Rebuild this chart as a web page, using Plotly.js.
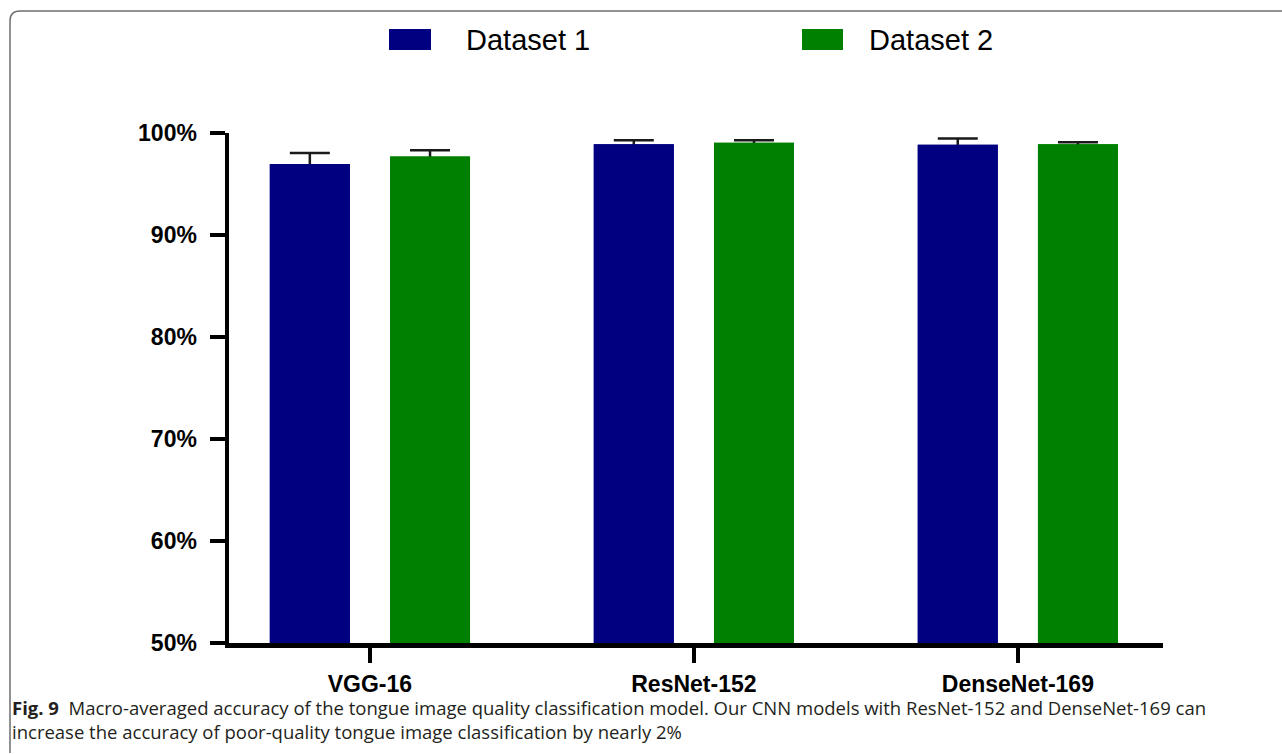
<!DOCTYPE html>
<html>
<head>
<meta charset="utf-8">
<script src="https://cdn.plot.ly/plotly-3.0.1.min.js"></script>
<style>html,body{margin:0;padding:0;background:#fff;}#chart{width:1282px;height:754px;}</style>
</head>
<body>
<div id="chart"></div>
<script>
// ---- data ----
const categories = ['VGG-16', 'ResNet-152', 'DenseNet-169'];
const seriesNames = ['Dataset 1', 'Dataset 2'];
const dataset1 = [96.95, 98.9, 98.85];
const dataset1Err = [1.1, 0.4, 0.6];
const dataset2 = [97.7, 99.05, 98.9];
const dataset2Err = [0.6, 0.25, 0.2];
const yTicks = [50, 60, 70, 80, 90, 100];
const captionLine1 = 'Macro-averaged accuracy of the tongue image quality classification model. Our CNN models with ResNet-152 and DenseNet-169 can';
const captionLine2 = 'increase the accuracy of poor-quality tongue image classification by nearly 2%';

// ---- geometry helpers (pixel -> paper) ----
const W = 1282, H = 754;
const L = 229, R = 1163, T = 133, B = 643;
const px = x => (x - L) / (R - L);
const py = y => (B - y) / (B - T);

const colors = ['#000080', '#008000'];
const barWidth = 0.247;
const offsets = [-0.309, 0.062];
const vals = [dataset1, dataset2];
const errs = [dataset1Err, dataset2Err];

const traces = [];
// bars with error bars
for (let i = 0; i < 2; i++) {
  traces.push({
    type: 'bar', name: seriesNames[i], x: categories, y: vals[i],
    width: barWidth, offset: offsets[i],
    marker: {color: colors[i], line: {width: 0}},
    error_y: {type: 'data', array: errs[i], symmetric: true, visible: true,
              color: '#1a1a1a', thickness: 2.5, width: 20},
    showlegend: false
  });
}
// covering bars (hide lower half of error bars)
for (let i = 0; i < 2; i++) {
  traces.push({
    type: 'bar', name: seriesNames[i], x: categories, y: vals[i],
    width: barWidth, offset: offsets[i],
    marker: {color: colors[i], line: {width: 0}},
    showlegend: false, hoverinfo: 'skip'
  });
}

const shapes = [];
const annotations = [];
// frame
shapes.push({
  type: 'path', xref: 'paper', yref: 'paper',
  path: `M${px(10)},${py(753)} Q${px(10)},${py(748)} ${px(10)},${py(740)} L${px(10)},${py(21)} Q${px(10)},${py(11)} ${px(20)},${py(11)} L${px(1290)},${py(11)}`,
  line: {color: '#6e6e6e', width: 1.5}
});
// legend
const legSw = [[389, 431], [802, 843]];
const legTx = [464, 867];
for (let i = 0; i < 2; i++) {
  shapes.push({
    type: 'rect', xref: 'paper', yref: 'paper',
    x0: px(legSw[i][0]), x1: px(legSw[i][1]), y0: py(50), y1: py(29),
    fillcolor: colors[i], line: {width: 0}
  });
  annotations.push({
    xref: 'paper', yref: 'paper', x: px(legTx[i]), y: py(40),
    xanchor: 'left', yanchor: 'middle', showarrow: false,
    text: seriesNames[i],
    font: {family: 'Liberation Sans, Arial, sans-serif', size: 29, color: '#000'}
  });
}
// caption
annotations.push({
  xref: 'paper', yref: 'paper', x: px(10), y: py(707),
  xanchor: 'left', yanchor: 'middle', showarrow: false, align: 'left',
  text: '<b>Fig. 9</b>\u00a0\u00a0' + captionLine1,
  font: {family: 'Open Sans, Noto Sans, sans-serif', size: 18.5, color: '#231f20'}
});
annotations.push({
  xref: 'paper', yref: 'paper', x: px(10), y: py(731),
  xanchor: 'left', yanchor: 'middle', showarrow: false, align: 'left',
  text: captionLine2,
  font: {family: 'Open Sans, Noto Sans, sans-serif', size: 18.5, color: '#231f20'}
});

const layout = {
  width: W, height: H,
  margin: {l: L, r: W - R, t: T, b: H - B, pad: 0},
  paper_bgcolor: '#fff', plot_bgcolor: '#fff',
  barmode: 'overlay',
  showlegend: false,
  xaxis: {
    type: 'category', range: [-0.435, 2.448],
    showline: true, linecolor: '#000', linewidth: 4.5,
    ticks: 'outside', ticklen: 15, tickwidth: 4.5, tickcolor: '#000',
    showgrid: false, zeroline: false,
    tickfont: {family: 'Liberation Sans, Arial, sans-serif', size: 23, color: '#000', weight: 'bold'},
    ticklabelstandoff: 2
  },
  yaxis: {
    range: [50, 100], tickvals: yTicks, ticktext: yTicks.map(v => v + '%'),
    showline: true, linecolor: '#000', linewidth: 4.5,
    ticks: 'outside', ticklen: 15, tickwidth: 4.5, tickcolor: '#000',
    showgrid: false, zeroline: false,
    tickfont: {family: 'Liberation Sans, Arial, sans-serif', size: 23, color: '#000', weight: 'bold'},
    ticklabelstandoff: 8
  },
  shapes: shapes,
  annotations: annotations
};

Plotly.newPlot('chart', traces, layout, {displayModeBar: false, staticPlot: true});
</script>
</body>
</html>
